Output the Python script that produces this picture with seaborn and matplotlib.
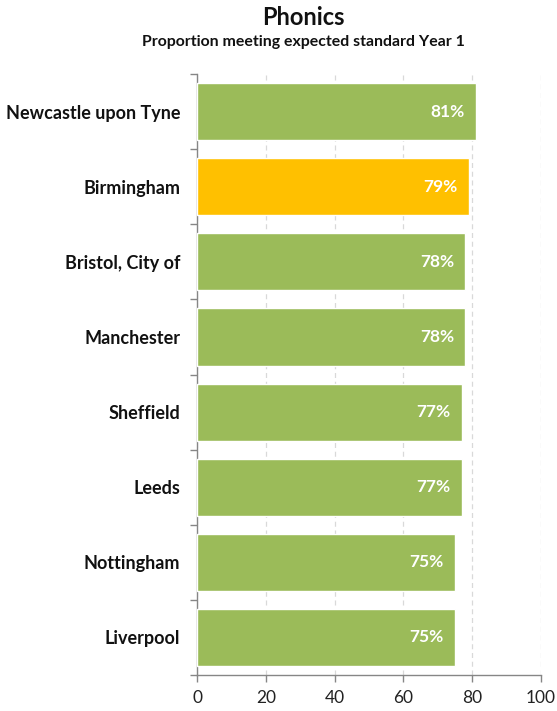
import matplotlib
matplotlib.use("Agg")
import matplotlib.pyplot as plt
import seaborn as sns
import pandas as pd
import numpy as np

cities = ["Newcastle upon Tyne", "Birmingham", "Bristol, City of", "Manchester",
          "Sheffield", "Leeds", "Nottingham", "Liverpool"]
values = [81, 79, 78, 78, 77, 77, 75, 75]
highlight = "Birmingham"
x_ticks = [0, 20, 40, 60, 80, 100]

green = "#9BBB59"
gold = "#FFC000"

df = pd.DataFrame({"city": cities, "value": values})
palette = {c: (gold if c == highlight else green) for c in cities}

sns.set_theme(style="white")
plt.rcParams["font.family"] = ["Lato", "DejaVu Sans"]

fig = plt.figure(figsize=(5.57, 7.11), dpi=100)
ax = fig.add_axes([0.3537, 0.0506, 0.6176, 0.8453])

sns.barplot(data=df, y="city", x="value", hue="city", palette=palette,
            order=cities, orient="h", width=0.76, saturation=1,
            legend=False, ax=ax, zorder=3)

ax.set_xlim(0, 100)
ax.set_ylim(len(cities) - 0.5, -0.5)
ax.set_xticks(x_ticks)
ax.set_xticklabels([str(t) for t in x_ticks], fontsize=12.5, color="#222222")
ax.set_xlabel("")
ax.set_ylabel("")

ax.set_yticks(range(len(cities)))
ax.set_yticklabels(cities, fontsize=13, fontweight="bold", color="#111111")
ax.set_yticks(np.arange(-0.5, len(cities), 1), minor=True)
ax.tick_params(axis="y", which="major", length=0, pad=12)
ax.tick_params(axis="y", which="minor", length=5, color="#868686", width=1, direction="out", left=True)
ax.tick_params(axis="x", which="major", length=5, color="#868686", width=1, direction="out", bottom=True, pad=6)

ax.grid(axis="x", color="#D9D9D9", linestyle=(0, (4, 3)), linewidth=0.9, zorder=0)
ax.grid(axis="y", visible=False)

for side in ["top", "right"]:
    ax.spines[side].set_visible(False)
for side in ["left", "bottom"]:
    ax.spines[side].set_color("#868686")
    ax.spines[side].set_linewidth(1)

for i, v in enumerate(values):
    ax.annotate(f"{v}%", xy=(v, i), xytext=(-8, 0), textcoords="offset points",
                ha="right", va="center", color="white", fontsize=12.5,
                fontweight="bold", zorder=4)

fig.text(0.544, 0.976, "Phonics", ha="center", va="center",
         fontsize=17, fontweight="bold", color="#111111")
fig.text(0.544, 0.941, "Proportion meeting expected standard Year 1", ha="center",
         va="center", fontsize=11.4, fontweight="bold", color="#111111")

fig.savefig("out.png", dpi=100)
